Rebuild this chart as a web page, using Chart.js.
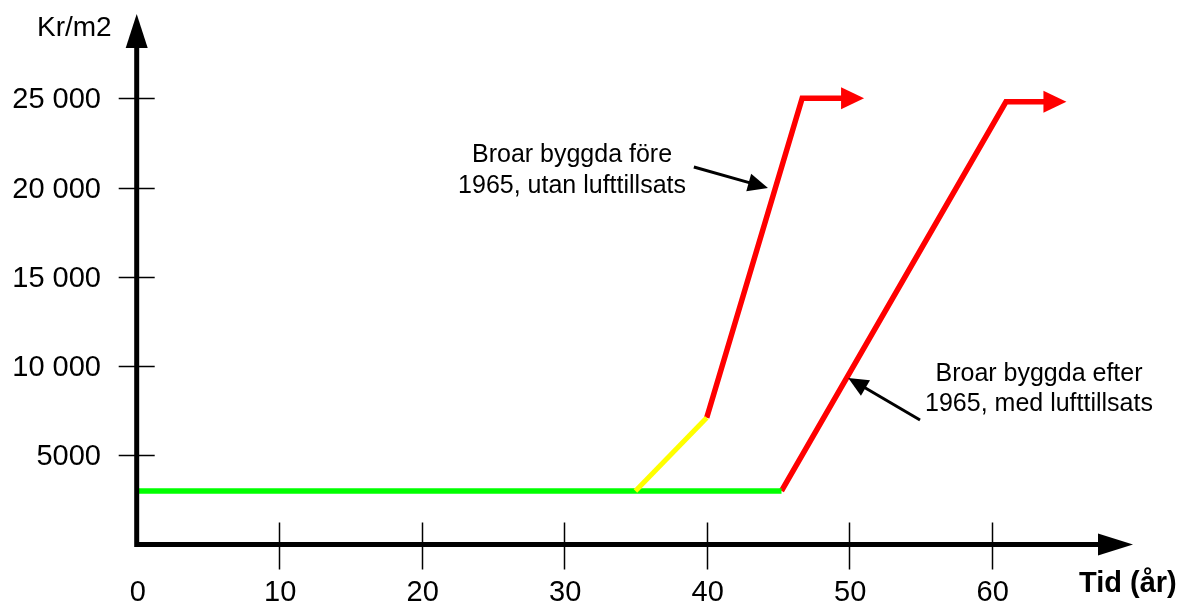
<!DOCTYPE html>
<html>
<head>
<meta charset="utf-8">
<script src="https://cdn.jsdelivr.net/npm/chart.js@4/dist/chart.umd.min.js"></script>
<style>
html,body{margin:0;padding:0;background:#fff;}
canvas{display:block;}
</style>
</head>
<body>
<canvas id="c" width="1189" height="601"></canvas>
<script>
// ---- data ----
const xTickValues = [10, 20, 30, 40, 50, 60];
const xTickLabels = ['0', '10', '20', '30', '40', '50', '60'];
const xLabelValues = [0, 10, 20, 30, 40, 50, 60];
const yTickValues = [5000, 10000, 15000, 20000, 25000];
const yTickLabels = ['5000', '10 000', '15 000', '20 000', '25 000'];
const yAxisTitle = 'Kr/m2';
const xAxisTitle = 'Tid (år)';

const greenX = [0.15, 45.25];
const greenY = [3000, 3000];
const yellowX = [35, 40];
const yellowY = [3000, 7100];
const red1X = [40, 46.7, 49.5];
const red1Y = [7100, 25000, 25000];
const red2X = [45.25, 61, 63.7];
const red2Y = [3000, 24800, 24800];

const note1Lines = ['Broar byggda före', '1965, utan lufttillsats'];
const note2Lines = ['Broar byggda efter', '1965, med lufttillsats'];

function pts(xs, ys) { return xs.map((x, i) => ({x: x, y: ys[i]})); }

const FONT = '"Liberation Sans", Arial, sans-serif';

// annotation anchors (data coordinates)
const notes = [
  {lines: note1Lines, cx: 30.55, y1: 21432, y2: 19695, tail: [39.1, 21151], tip: [44.3, 19980]},
  {lines: note2Lines, cx: 63.32, y1: 9178, y2: 7480, tail: [54.97, 6980], tip: [49.93, 9330]}
];

function arrowHead(ctx, x, y, angle, len, half) {
  ctx.save();
  ctx.translate(x, y);
  ctx.rotate(angle);
  ctx.beginPath();
  ctx.moveTo(0, 0);
  ctx.lineTo(-len, -half);
  ctx.lineTo(-len, half);
  ctx.closePath();
  ctx.fill();
  ctx.restore();
}

const axesPlugin = {
  id: 'axesPlugin',
  afterDatasetsDraw(chart) {
    const ctx = chart.ctx;
    const xs = chart.scales.x, ys = chart.scales.y;
    const x0 = xs.getPixelForValue(0);
    const y0 = ys.getPixelForValue(0);
    ctx.save();
    // red arrowheads at series ends
    ctx.fillStyle = '#ff0000';
    [[red1X, red1Y], [red2X, red2Y]].forEach(([X, Y]) => {
      const px = xs.getPixelForValue(X[X.length - 1]);
      const py = ys.getPixelForValue(Y[Y.length - 1]);
      arrowHead(ctx, px + 22, py, 0, 23, 11);
    });

    // axes
    ctx.strokeStyle = '#000';
    ctx.fillStyle = '#000';
    ctx.lineWidth = 5;
    ctx.lineCap = 'butt';
    ctx.beginPath();
    ctx.moveTo(x0, 46);
    ctx.lineTo(x0, y0);
    ctx.lineTo(1100, y0);
    ctx.stroke();
    // y arrow
    ctx.beginPath();
    ctx.moveTo(x0, 14);
    ctx.lineTo(x0 - 11, 48);
    ctx.lineTo(x0 + 11, 48);
    ctx.closePath();
    ctx.fill();
    // x arrow
    ctx.beginPath();
    ctx.moveTo(1133, y0);
    ctx.lineTo(1098, y0 - 11);
    ctx.lineTo(1098, y0 + 11);
    ctx.closePath();
    ctx.fill();

    // ticks
    ctx.lineWidth = 1.5;
    yTickValues.forEach(v => {
      const py = Math.round(ys.getPixelForValue(v)) + 0.5;
      ctx.beginPath();
      ctx.moveTo(x0 - 18, py);
      ctx.lineTo(x0 + 18, py);
      ctx.stroke();
    });
    xTickValues.forEach(v => {
      const px = Math.round(xs.getPixelForValue(v)) + 0.5;
      ctx.beginPath();
      ctx.moveTo(px, y0 - 22);
      ctx.lineTo(px, y0 + 25);
      ctx.stroke();
    });

    // tick labels
    ctx.font = '29px ' + FONT;
    ctx.textAlign = 'right';
    ctx.textBaseline = 'middle';
    yTickValues.forEach((v, i) => {
      ctx.fillText(yTickLabels[i], 101, ys.getPixelForValue(v) + 2);
    });
    ctx.textAlign = 'center';
    ctx.textBaseline = 'alphabetic';
    xLabelValues.forEach((v, i) => {
      ctx.fillText(xTickLabels[i], xs.getPixelForValue(v) + 1, 601);
    });

    // axis titles
    ctx.textAlign = 'left';
    ctx.font = '28px ' + FONT;
    ctx.fillText(yAxisTitle, 37, 36);
    ctx.font = 'bold 29px ' + FONT;
    ctx.fillText(xAxisTitle, 1079, 592);

    // annotations
    ctx.font = '25px ' + FONT;
    ctx.textAlign = 'center';
    notes.forEach(n => {
      const cx = xs.getPixelForValue(n.cx);
      ctx.fillText(n.lines[0], cx, ys.getPixelForValue(n.y1));
      ctx.fillText(n.lines[1], cx, ys.getPixelForValue(n.y2));
      const tx = xs.getPixelForValue(n.tail[0]), ty = ys.getPixelForValue(n.tail[1]);
      const hx = xs.getPixelForValue(n.tip[0]), hy = ys.getPixelForValue(n.tip[1]);
      const ang = Math.atan2(hy - ty, hx - tx);
      ctx.lineWidth = 3;
      ctx.beginPath();
      ctx.moveTo(tx, ty);
      ctx.lineTo(hx - Math.cos(ang) * 15, hy - Math.sin(ang) * 15);
      ctx.stroke();
      arrowHead(ctx, hx, hy, ang, 20, 9);
    });
    ctx.restore();
  }
};

const xPxPerUnit = 14.25;
const yPxPerK = 17.848;
const xLeft = 136.7, yBase = 544.5;
const xMax = 70, yMax = 30000;

new Chart(document.getElementById('c'), {
  type: 'line',
  data: {
    datasets: [
      {data: pts(yellowX, yellowY), borderColor: '#ffff00', borderWidth: 5, clip: false},
      {data: pts(greenX, greenY), borderColor: '#00ff00', borderWidth: 5.5, clip: false},
      {data: pts(red1X, red1Y), borderColor: '#ff0000', borderWidth: 5.5, clip: false},
      {data: pts(red2X, red2Y), borderColor: '#ff0000', borderWidth: 5.5, clip: false}
    ]
  },
  options: {
    responsive: false,
    devicePixelRatio: 1,
    animation: false,
    events: [],
    elements: {
      point: {radius: 0},
      line: {tension: 0, borderCapStyle: 'butt', borderJoinStyle: 'miter', fill: false}
    },
    layout: {
      padding: {
        left: xLeft,
        right: 1189 - (xLeft + xMax * xPxPerUnit),
        top: yBase - (yMax / 1000) * yPxPerK,
        bottom: 601 - yBase
      }
    },
    scales: {
      x: {type: 'linear', min: 0, max: xMax, display: false},
      y: {type: 'linear', min: 0, max: yMax, display: false}
    },
    plugins: {legend: {display: false}, tooltip: {enabled: false}, title: {display: false}}
  },
  plugins: [axesPlugin]
});
</script>
</body>
</html>
